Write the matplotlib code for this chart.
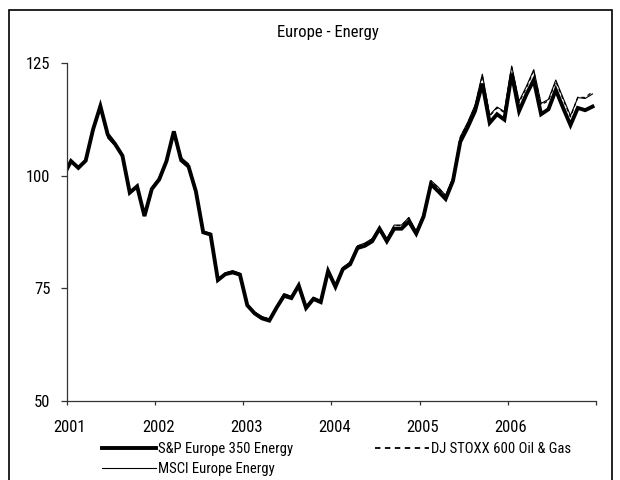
import matplotlib
matplotlib.use("Agg")
import matplotlib.pyplot as plt
import matplotlib.transforms as mtransforms
from matplotlib.patches import Rectangle
import numpy as np

plt.rcParams['font.family'] = ['Liberation Sans Narrow', 'Roboto Condensed',
                               'Archivo Narrow', 'Liberation Sans', 'DejaVu Sans']

title = "Europe - Energy"
years = ["2001", "2002", "2003", "2004", "2005", "2006"]
yticks = [50, 75, 100, 125]

# month-end index levels, Dec 2000 .. Dec 2006
sp350 = [100.0, 103.2, 101.7, 103.3, 110.2, 115.4, 109.1, 107.0, 104.4, 96.2,
         97.6, 91.0, 97.0, 99.1, 103.2, 109.8, 103.4, 102.0, 96.5, 87.4,
         86.9, 76.8, 78.1, 78.5, 78.0, 71.2, 69.4, 68.3, 67.8, 70.7,
         73.3, 72.8, 75.6, 70.6, 72.6, 71.9, 78.8, 75.3, 79.2, 80.3,
         83.9, 84.4, 85.4, 88.2, 85.4, 88.2, 88.2, 89.8, 87.1, 90.9,
         98.1, 96.5, 94.8, 98.8, 107.5, 110.7, 114.3, 120.4, 111.7, 113.6,
         112.4, 122.6, 114.3, 118.0, 121.2, 113.6, 114.7, 119.0, 115.0, 111.2,
         115.0, 114.5, 115.3]
msci = [100.0, 103.0, 101.9, 103.1, 110.5, 115.2, 108.3, 106.6, 104.2, 96.5,
        97.4, 91.2, 97.4, 99.5, 103.5, 109.5, 104.0, 102.6, 96.8, 87.6,
        87.2, 77.1, 78.4, 78.9, 78.3, 71.4, 69.7, 68.7, 68.2, 71.0,
        73.8, 73.2, 75.8, 71.0, 73.0, 72.3, 79.0, 75.6, 79.6, 80.8,
        84.4, 85.0, 86.0, 88.6, 86.0, 89.0, 89.0, 90.7, 87.6, 91.5,
        98.9, 97.4, 95.6, 99.5, 108.6, 111.8, 115.6, 122.5, 113.4, 115.2,
        114.2, 124.3, 116.5, 119.8, 123.5, 116.0, 116.9, 121.2, 117.2, 113.3,
        117.3, 117.1, 118.1]
djstoxx = [100.0, 103.1, 101.8, 103.2, 110.4, 115.3, 108.6, 106.8, 104.3, 96.4,
           97.5, 91.1, 97.3, 99.4, 103.4, 109.6, 103.8, 102.4, 96.7, 87.5,
           87.1, 77.0, 78.3, 78.8, 78.2, 71.3, 69.6, 68.6, 68.1, 70.9,
           73.7, 73.1, 75.7, 70.9, 72.9, 72.2, 79.0, 75.5, 79.5, 80.7,
           84.3, 84.9, 85.9, 88.5, 85.9, 88.9, 88.9, 90.6, 87.5, 91.4,
           98.8, 97.3, 95.5, 99.4, 108.4, 111.6, 115.3, 122.2, 113.2, 115.0,
           114.0, 124.0, 116.2, 119.5, 123.2, 115.7, 116.6, 120.9, 116.9, 113.0,
           117.4, 117.3, 118.6]

fig = plt.figure(figsize=(6.2, 4.8), dpi=100)
ax = fig.add_axes([0.108, 0.165, 0.853, 0.704])

x = np.arange(len(sp350))
ax.plot(x, sp350, color='black', lw=2.8, label="S&P Europe 350 Energy",
        solid_joinstyle='miter')
ax.plot(x, msci, color='black', lw=0.8, label="MSCI Europe Energy")
ax.plot(x, djstoxx, color='black', lw=0.9, ls=(0, (3, 2.5)),
        label="DJ STOXX 600 Oil & Gas")

start = 0.45
ax.set_xlim(start, start + 72)
ax.set_ylim(50, 125)
ax.set_xticks([start + 12 * k for k in range(7)])
ax.set_xticklabels(years + [""])
ax.set_yticks(yticks)

for s in ['top', 'right']:
    ax.spines[s].set_visible(False)
for s in ['left', 'bottom']:
    ax.spines[s].set_color('#333333')
    ax.spines[s].set_linewidth(0.9)

ax.tick_params(axis='x', length=3, width=0.9, color='#333333', pad=11, labelsize=12)
ax.tick_params(axis='y', length=4, width=0.9, color='#333333', pad=8, labelsize=12)
shift = mtransforms.ScaledTranslation(3 / 100, 0, fig.dpi_scale_trans)
for lbl in ax.get_xticklabels():
    lbl.set_transform(lbl.get_transform() + shift)

fig.text(328 / 620, 1 - 33 / 480, title, ha='center', va='center', fontsize=12)

leg = ax.legend(loc='upper left', bbox_to_anchor=(102 / 620, 1 - 442 / 480),
                bbox_transform=fig.transFigure, ncol=2, frameon=False, fontsize=10.5,
                handlelength=3.7, handletextpad=0.15, columnspacing=5.6,
                labelspacing=0.4, borderpad=0, borderaxespad=0)
leg.get_lines()[2].set_linewidth(1.3)

fig.add_artist(Rectangle((9 / 620, -0.05), 603 / 620, 1.05 - 10 / 480,
                         transform=fig.transFigure, fill=False, lw=1.2,
                         edgecolor='black'))

fig.savefig("out.png", dpi=100)
